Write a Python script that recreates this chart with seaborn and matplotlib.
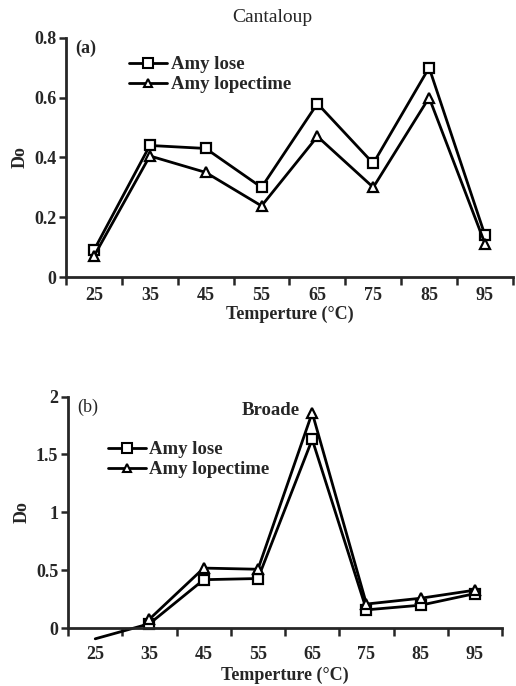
import numpy as np
import pandas as pd
import seaborn as sns
import matplotlib
matplotlib.use("Agg")
import matplotlib.pyplot as plt
from matplotlib.lines import Line2D

temps = [25, 35, 45, 55, 65, 75, 85, 95]
tick_labels = ["25", "35", "45", "55", "65", "75", "85", "95"]

cant_lose = [0.09, 0.44, 0.43, 0.30, 0.58, 0.38, 0.70, 0.14]
cant_lopec = [0.07, 0.405, 0.35, 0.238, 0.47, 0.30, 0.60, 0.112]

broad_lose = [-0.09, 0.04, 0.42, 0.43, 1.63, 0.16, 0.20, 0.30]
broad_lopec = [np.nan, 0.08, 0.52, 0.51, 1.86, 0.21, 0.26, 0.33]

series_names = ["Amy lose", "Amy lopectime"]

sns.set_style("ticks")
plt.rcParams["font.family"] = ["Liberation Serif", "DejaVu Serif"]

fig = plt.figure(figsize=(5.16, 6.86), dpi=100)
ax1 = fig.add_axes([0.128, 0.596, 0.866, 0.349])
ax2 = fig.add_axes([0.132, 0.084, 0.841, 0.338])

def draw(ax, lose, lopec, ylim, yticks, yticklabels, tick_pad, label_pad,
         lose_markevery=None):
    d1 = pd.DataFrame({"t": temps, "v": lose})
    d2 = pd.DataFrame({"t": temps, "v": lopec})
    kw_sq = dict(marker="s", markersize=7, markerfacecolor="white",
                 markeredgecolor="black", markeredgewidth=1.6)
    if lose_markevery is not None:
        kw_sq["markevery"] = lose_markevery
    sns.lineplot(data=d1, x="t", y="v", ax=ax, color="black", linewidth=2,
                 clip_on=False, **kw_sq)
    sns.lineplot(data=d2, x="t", y="v", ax=ax, color="black", linewidth=2,
                 marker="^", markersize=7, markerfacecolor="white",
                 markeredgecolor="black", markeredgewidth=1.6, clip_on=False)
    ax.set_xlim(20, 100)
    ax.set_ylim(*ylim)
    ax.set_xticks(np.arange(20, 101, 10))
    ax.set_xticklabels([])
    ax.set_xticks(temps, minor=True)
    ax.set_xticklabels(tick_labels, minor=True, fontsize=13, fontweight="bold")
    ax.tick_params(axis="x", which="major", direction="out", length=6, width=1.8)
    ax.tick_params(axis="x", which="minor", length=0, pad=tick_pad)
    ax.set_yticks(yticks)
    ax.set_yticklabels(yticklabels, fontsize=13, fontweight="bold")
    ax.tick_params(axis="y", direction="out", length=5, width=1.8, pad=2)
    for s in ["top", "right"]:
        ax.spines[s].set_visible(False)
    for s in ["left", "bottom"]:
        ax.spines[s].set_linewidth(2)
    ax.set_xlabel("Temperture (°C)", fontsize=13, fontweight="bold",
                  labelpad=label_pad)
    ax.set_ylabel("Do", fontsize=13, fontweight="bold", labelpad=4)

draw(ax1, cant_lose, cant_lopec, (0, 0.8), [0, 0.2, 0.4, 0.6, 0.8],
     ["0", "0.2", "0.4", "0.6", "0.8"], tick_pad=7, label_pad=1)
draw(ax2, broad_lose, broad_lopec, (0, 2), [0, 0.5, 1, 1.5, 2],
     ["0", "0.5", "1", "1.5", "2"], tick_pad=13, label_pad=2,
     lose_markevery=list(range(1, 8)))

handles = [
    Line2D([], [], color="black", linewidth=2, marker="s", markersize=7,
           markerfacecolor="white", markeredgecolor="black", markeredgewidth=1.5),
    Line2D([], [], color="black", linewidth=2, marker="^", markersize=6,
           markerfacecolor="white", markeredgecolor="black", markeredgewidth=1.5),
]
leg_kw = dict(frameon=False, fontsize=13.5, handlelength=2.0, handletextpad=0.2,
              labelspacing=0.15, borderaxespad=0)
l1 = ax1.legend(handles, series_names, loc="upper left",
                bbox_to_anchor=(0.125, 0.955), **leg_kw)
for t in l1.get_texts():
    t.set_fontweight("bold")
l2 = ax2.legend(handles, series_names, loc="upper left",
                bbox_to_anchor=(0.075, 0.84), **leg_kw)
for t in l2.get_texts():
    t.set_fontweight("bold")

ax1.text(0.02, 0.99, "(a)", transform=ax1.transAxes, fontsize=13,
         fontweight="bold", va="top", ha="left")
ax2.text(0.02, 0.99, "(b)", transform=ax2.transAxes, fontsize=13,
         va="top", ha="left")
fig.text(272 / 516, 1 - 18 / 686, "Cantaloup", fontsize=14, ha="center", va="center")
ax2.text(0.468, 0.975, "Broade", transform=ax2.transAxes, fontsize=13.5,
         fontweight="bold", ha="center", va="top")

fig.savefig("out.png", dpi=100)
